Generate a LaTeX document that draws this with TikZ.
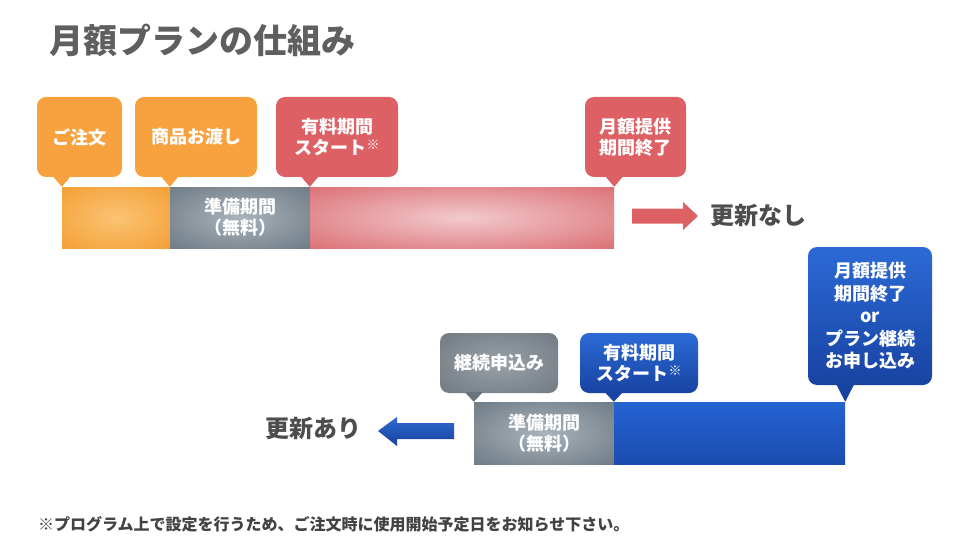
\documentclass[tikz,border=0pt]{standalone}
\usepackage{fontspec}
\setmainfont{Noto Sans CJK JP}
\usetikzlibrary{calc}
\definecolor{corange}{HTML}{F7A23E}
\definecolor{cred}{HTML}{DD6064}
\definecolor{cblueT}{HTML}{2C6AD6}
\definecolor{cblueB}{HTML}{1843A2}
\definecolor{ctext}{HTML}{4D4D4D}
\definecolor{g2ptr}{HTML}{6A737B}
\definecolor{bbarT}{HTML}{2463D2}
\definecolor{bbarB}{HTML}{1B4CB0}
\definecolor{barrT}{HTML}{2E6BD2}
\definecolor{barrB}{HTML}{173F9C}
\pgfdeclareradialshading{softO}{\pgfpoint{0bp}{0bp}}{rgb(0bp)=(0.984,0.765,0.45); rgb(42bp)=(0.95,0.60,0.17); rgb(100bp)=(0.95,0.60,0.17)}
\pgfdeclareradialshading{softG}{\pgfpoint{0bp}{0bp}}{rgb(0bp)=(0.66,0.70,0.73); rgb(45bp)=(0.38,0.43,0.47); rgb(100bp)=(0.38,0.43,0.47)}
\pgfdeclareradialshading{softR}{\pgfpoint{0bp}{0bp}}{rgb(0bp)=(0.95,0.79,0.80); rgb(40bp)=(0.85,0.40,0.42); rgb(100bp)=(0.85,0.40,0.42)}
\pgfdeclareradialshading{softG2}{\pgfpoint{0bp}{0bp}}{rgb(0bp)=(0.60,0.63,0.66); rgb(50bp)=(0.38,0.42,0.45); rgb(100bp)=(0.38,0.42,0.45)}
\newcommand{\kome}{{\mdseries\fontsize{13}{13}\selectfont\raisebox{5pt}{※}}}
\newcommand{\ptr}[3]{\fill[#1] ([xshift=-9pt,yshift=1pt]#2 |- #3.south) -- (#2) -- ([xshift=9pt,yshift=1pt]#2 |- #3.south) -- cycle;}
\tikzset{
  callout/.style={rounded corners=9pt, text=white, font=\bfseries\fontsize{18}{21}\selectfont, align=center, inner sep=0pt},
  barseg/.style={inner sep=0pt, minimum height=61pt, text=white, font=\bfseries\fontsize{18}{21}\selectfont, align=center},
  lbl/.style={text=ctext, font=\bfseries\fontsize{24}{24}\selectfont, inner sep=0pt},
}
\begin{document}
\begin{tikzpicture}[x=1pt,y=-1pt]
\useasboundingbox (0,0) rectangle (960,540);
\fill[white] (0,0) rectangle (960,540);

% title
\node[anchor=west, text=ctext!90, font=\bfseries\fontsize{34}{34}\selectfont, inner sep=0pt] (title) at (49,40) {月額プランの仕組み};

% ---------- top row ----------
\node[barseg, minimum width=108pt, shading=softO] (b1) at (116,217.5) {};
\node[barseg, minimum width=140pt, shading=softG] (b2) at (240,217.5) {準備期間\\（無料）};
\node[barseg, minimum width=304pt, shading=softR] (b3) at (462,217.5) {};

\node[callout, fill=corange, minimum width=85pt, minimum height=80pt] (c1) at (79.5,137) {ご注文};
\node[callout, fill=corange, minimum width=122pt, minimum height=80pt] (c2) at (196,137) {商品お渡し};
\node[callout, fill=cred, minimum width=122pt, minimum height=80pt] (c3) at (337,137) {有料期間\\スタート\kome};
\node[callout, fill=cred, minimum width=101pt, minimum height=80pt] (c4) at (635.5,137) {月額提供\\期間終了};
\ptr{corange}{b1.north west}{c1}
\ptr{corange}{b2.north west}{c2}
\ptr{cred}{b3.north west}{c3}
\ptr{cred}{b3.north east}{c4}

% red arrow
\coordinate (ra) at (632,216);
\node[lbl, anchor=west] (nashi) at (710,216) {更新なし};
\fill[cred] ($(ra)+(0,-7.5)$) -- ($(ra)+(51,-7.5)$) -- ($(ra)+(51,-14)$) -- ($(ra)+(66,0)$) -- ($(ra)+(51,14)$) -- ($(ra)+(51,7.5)$) -- ($(ra)+(0,7.5)$) -- cycle;

% ---------- bottom row ----------
\node[barseg, minimum height=62pt, minimum width=140pt, shading=softG] (b4) at (544,433) {準備期間\\（無料）};
\node[barseg, minimum height=62pt, minimum width=231pt, top color=bbarT, bottom color=bbarB] (b5) at (729.5,433) {};

\node[callout, shading=softG2, minimum width=118pt, minimum height=60pt] (c5) at (499,363) {継続申込み};
\node[callout, top color=cblueT, bottom color=cblueB, minimum width=118pt, minimum height=60pt] (c6) at (639,363) {有料期間\\スタート\kome};
\node[callout, top color=cblueT, bottom color=cblueB, minimum width=124pt, minimum height=138pt, font=\bfseries\fontsize{18}{22.5}\selectfont] (c7) at (870,316) {月額提供\\期間終了\\or\\プラン継続\\お申し込み};
\ptr{g2ptr}{b4.north west}{c5}
\ptr{cblueB}{b5.north west}{c6}
\ptr{cblueB}{b5.north east}{c7}

% blue arrow
\coordinate (ba) at (454,431);
\node[lbl, anchor=east] (ari) at (362,429) {更新あり};
\shade[top color=barrT, bottom color=barrB] ($(ba)+(0,-8)$) -- ($(ba)+(-57,-8)$) -- ($(ba)+(-57,-14)$) -- ($(ba)+(-76,0)$) -- ($(ba)+(-57,15)$) -- ($(ba)+(-57,8)$) -- ($(ba)+(0,8)$) -- cycle;

% footnote
\node[anchor=west, text=ctext!85!black, font=\bfseries\fontsize{16}{16}\selectfont, inner sep=0pt] (note) at (38,524) {※プログラム上で設定を行うため、ご注文時に使用開始予定日をお知らせ下さい。};
\end{tikzpicture}
\end{document}
